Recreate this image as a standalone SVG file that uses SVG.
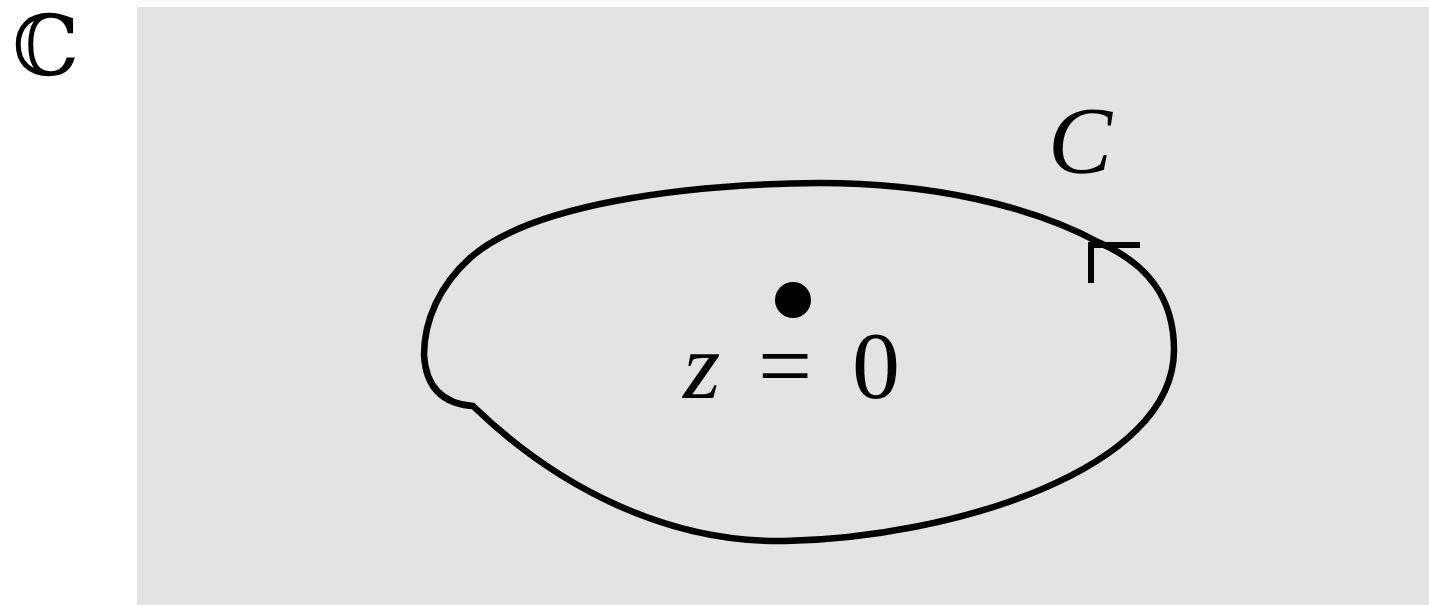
<svg xmlns="http://www.w3.org/2000/svg" width="1429" height="605" viewBox="0 0 1429 605">
<style>
.t{font-family:"Liberation Serif","DejaVu Serif",serif;fill:#000}
.i{font-style:italic}
</style>
<rect width="1429" height="605" fill="#fff"/>
<g id="plane"><rect x="137" y="7" width="1292" height="598" fill="#e3e3e3"/></g>
<g id="label-C-field"><text class="t" x="12" y="75" style="font-family:'DejaVu Serif',serif" font-size="84">ℂ</text></g>
<g id="connectors">
<path d="M 473 406 C 560 490, 670 543, 785 541 C 950 538, 1174 470, 1174 350 C 1174 300, 1150 265, 1100 243 C 1030 205, 930 183, 820 183 C 680 184, 530 205, 470 258 C 440 285, 424 320, 424 355 C 426 390, 445 404, 473 406 Z" fill="none" stroke="#000" stroke-width="6.5" stroke-linejoin="miter"/>
<path d="M 1091 283 V 245 H 1140" fill="none" stroke="#000" stroke-width="6"/>
</g>
<g id="label-C"><text class="t i" x="1048" y="173" font-size="96">C</text></g>
<g id="point"><circle cx="793" cy="300" r="18" fill="#000"/></g>
<g id="label-z"><text class="t i" x="683" y="398" font-size="96">z</text><text class="t" x="758" y="398" font-size="96">=</text><text class="t" x="852" y="398" font-size="96">0</text></g>
</svg>
